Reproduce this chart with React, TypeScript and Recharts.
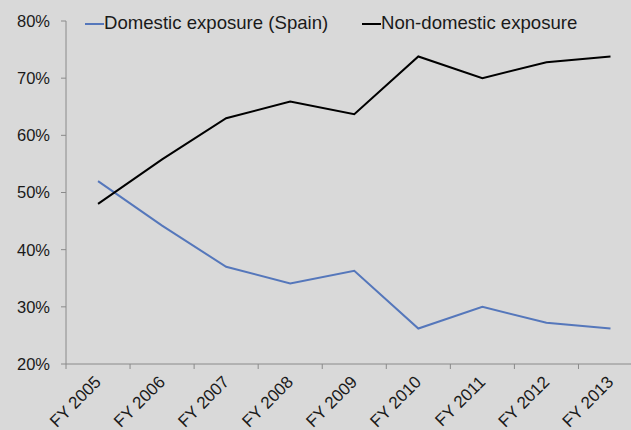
import { LineChart, Line, XAxis, YAxis } from "recharts";

const categories = ["FY 2005", "FY 2006", "FY 2007", "FY 2008", "FY 2009", "FY 2010", "FY 2011", "FY 2012", "FY 2013"];
const domestic = [52, 44.2, 37, 34.1, 36.3, 26.2, 30, 27.2, 26.2];
const nonDomestic = [48, 55.8, 63, 65.9, 63.7, 73.8, 70, 72.8, 73.8];
const yTicks = [20, 30, 40, 50, 60, 70, 80];

const data = categories.map((name, i) => ({ idx: i, name, domestic: domestic[i], nonDomestic: nonDomestic[i] }));

// tick positions: category centres (labels) and boundaries between them (tick marks)
const xTicks: number[] = [];
categories.forEach((_, i) => {
  xTicks.push(i - 0.5);
  xTicks.push(i);
});

const FONT = "'Liberation Sans', Arial, sans-serif";
const AXIS = "#8a8a8a";

function XTick(props: any) {
  const { x, y, payload } = props;
  const v = payload.value;
  if (!Number.isInteger(v)) {
    return <line x1={x} y1={y} x2={x} y2={y + 5} stroke={AXIS} strokeWidth={1} />;
  }
  const tx = x + 4;
  const ty = y + 19;
  return (
    <text x={tx} y={ty} textAnchor="end" fontSize={17} fontFamily={FONT} fill="#1a1a1a" transform={`rotate(-45, ${tx}, ${ty})`}>
      {categories[v]}
    </text>
  );
}

export default function App() {
  return (
    <div style={{ position: "absolute", top: 0, left: 0, width: 631, height: 430, background: "#d9d9d9", overflow: "hidden" }}>
      <LineChart width={631} height={430} data={data} margin={{ top: 21, right: 0, left: 0, bottom: 0 }}>
        <XAxis
          type="number"
          dataKey="idx"
          domain={[-0.5, 8.32]}
          ticks={xTicks}
          interval={0}
          tick={<XTick />}
          tickLine={false}
          tickSize={0}
          tickMargin={0}
          height={66}
          stroke={AXIS}
          allowDataOverflow
        />
        <YAxis
          type="number"
          domain={[20, 80]}
          ticks={yTicks}
          interval={0}
          width={66}
          tickSize={5}
          tickMargin={11}
          stroke={AXIS}
          tick={{ fill: "#1a1a1a", fontSize: 16.5, fontFamily: FONT }}
          tickFormatter={(v: number) => `${v}%`}
        />
        <Line type="linear" dataKey="domestic" stroke="#5577bb" strokeWidth={2} dot={false} isAnimationActive={false} />
        <Line type="linear" dataKey="nonDomestic" stroke="#000000" strokeWidth={2} dot={false} isAnimationActive={false} />
      </LineChart>
      <div style={{ position: "absolute", top: 12, left: 85, height: 22, lineHeight: "22px", fontFamily: FONT, fontSize: 18.6, color: "#1a1a1a", whiteSpace: "nowrap" }}>
        <span style={{ display: "inline-block", width: 19, height: 2, background: "#5577bb", verticalAlign: "middle" }} />
        <span>Domestic exposure (Spain)</span>
      </div>
      <div style={{ position: "absolute", top: 12, left: 362, height: 22, lineHeight: "22px", fontFamily: FONT, fontSize: 18.6, color: "#1a1a1a", whiteSpace: "nowrap" }}>
        <span style={{ display: "inline-block", width: 19, height: 2, background: "#000000", verticalAlign: "middle" }} />
        <span>Non-domestic exposure</span>
      </div>
    </div>
  );
}
